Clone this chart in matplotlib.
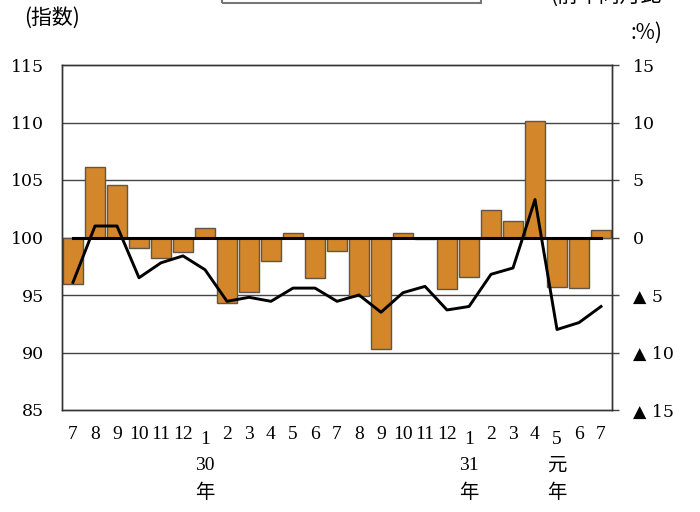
import numpy as np
import matplotlib
matplotlib.use('Agg')
import matplotlib.pyplot as plt
import matplotlib.patches as patches

# months from H29.7 to R1.7
months = ['7', '8', '9', '10', '11', '12', '1', '2', '3', '4', '5', '6',
          '7', '8', '9', '10', '11', '12', '1', '2', '3', '4', '5', '6', '7']
# year-on-year change (%), right axis, bars
yoy = [-4.0, 6.1, 4.6, -0.9, -1.8, -1.3, 0.8, -5.7, -4.7, -2.0, 0.35, -3.5,
       -1.2, -5.1, -9.7, 0.35, -0.15, -4.5, -3.4, 2.35, 1.4, 10.1, -4.3, -4.35, 0.65]
# index, left axis, line
index = [96.1, 101.0, 101.0, 96.5, 97.8, 98.4, 97.2, 94.45, 94.8, 94.45, 95.6, 95.6,
         94.45, 95.0, 93.5, 95.2, 95.75, 93.7, 94.0, 96.8, 97.35, 103.3, 92.0, 92.6, 94.0]
# year labels: (month position, text lines)
years = [(6, '30', '年'), (18, '31', '年'), (22, '元', '年')]

left_ticks = [85, 90, 95, 100, 105, 110, 115]
right_ticks = [-15, -10, -5, 0, 5, 10, 15]
right_labels = ['▲ 15', '▲ 10', '▲ 5', '0', '5', '10', '15']

serif = ['DejaVu Serif', 'DejaVu Sans']
narrow = ['Liberation Serif', 'DejaVu Sans']
jp = ['Noto Sans CJK JP', 'DejaVu Sans']

fig = plt.figure(figsize=(7, 5.12), dpi=100)
ax2 = fig.add_axes([62 / 700, 1 - 410 / 512, 550 / 700, 345 / 512])  # % axis (bars, behind)
ax = ax2.twinx()
ax.yaxis.tick_left()
ax2.yaxis.tick_right()
ax2.set_zorder(0)
ax.set_zorder(1)
ax.patch.set_visible(False)

x = np.arange(len(months))

# grid and bars on the right-hand axis
for v in [-10, -5, 0, 5, 10]:
    ax2.axhline(v, color='#444444', lw=1, zorder=0)
ax2.bar(x, yoy, width=0.92, color='#D3862A', edgecolor='#5f5548', lw=1, zorder=2)
ax2.set_ylim(-15, 15)
ax2.set_xlim(-0.5, len(months) - 0.5)
ax2.set_yticks(right_ticks)
ax2.set_yticklabels(right_labels, family=serif, fontsize=12.5)
for lab in ax2.get_yticklabels():
    lab.set_horizontalalignment('left')
ax2.tick_params(axis='y', direction='out', length=5, width=1, color='#444444', pad=10)
ax2.set_xticks([])

# index line on the left-hand axis
ax.set_ylim(85, 115)
ax.set_xlim(-0.5, len(months) - 0.5)
ax.plot([0, len(months) - 1], [100, 100], color='black', lw=2.2)
ax.plot(x, index, color='black', lw=2.1)
ax.set_yticks(left_ticks)
ax.set_yticklabels([str(t) for t in left_ticks], family=serif, fontsize=12.5)
ax.tick_params(axis='y', length=0, pad=13)
ax.set_xticks([])

for a in (ax, ax2):
    for s in a.spines.values():
        s.set_color('#333333')
        s.set_linewidth(1)

# month labels
tr = ax.get_xaxis_transform()
low = [p for p, _, _ in years]
for i, m in enumerate(months):
    yy = -0.086 if i in low else -0.07
    ax.text(i, yy, m, transform=tr, ha='center', va='center', family=narrow, fontsize=14)
for p, top, bot in years:
    fam = narrow if top.isdigit() else jp
    ax.text(p, -0.16, top, transform=tr, ha='center', va='center', family=fam, fontsize=14)
    ax.text(p, -0.238, bot, transform=tr, ha='center', va='center', family=jp, fontsize=14)

# header texts
fig.text(24 / 700, 1 - 18 / 512, '(指数)', family=jp, fontsize=15, ha='left', va='center')
fig.text(662 / 700, 1 - 7 / 512, '(前年同月比', family=jp, fontsize=15, ha='right', va='bottom')
fig.text(662 / 700, 1 - 33 / 512, ':%)', family=jp, fontsize=15, ha='right', va='center')

# legend box, cut at the top edge
fig.patches.append(patches.Rectangle((222 / 700, 1 - 3 / 512), 259 / 700, 10 / 512,
                                     transform=fig.transFigure, fill=False,
                                     edgecolor='#777777', lw=1.5))

fig.savefig('out.png', dpi=100)
